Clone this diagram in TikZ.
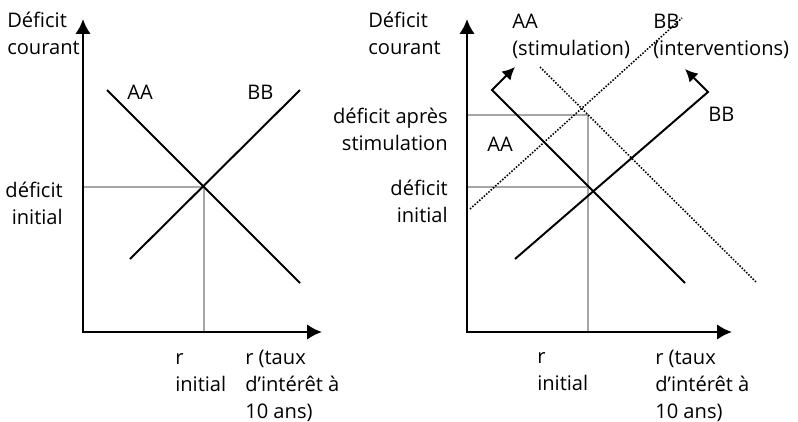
\documentclass[tikz,border=0pt]{standalone}
\usepackage{fontspec}
\setmainfont{Open Sans}
\usetikzlibrary{arrows.meta}
\definecolor{GuideGray}{HTML}{A6A6A6}
\tikzset{
  axis/.style={{Latex[length=10.5pt,width=11pt]}-{Latex[length=10.5pt,width=11pt]}, line width=2pt},
  curve/.style={line width=1.4pt},
  movedcurve/.style={line width=1.1pt, dash pattern=on 1.1pt off 1.1pt},
  shiftarrow/.style={line width=1.4pt},
  guide/.style={draw=GuideGray, line width=1.3pt},
  lbl/.style={inner sep=0pt, font=\fontsize{14.3}{19.2}\selectfont}
}

\begin{document}
\begin{tikzpicture}[x=0.025cm, y=-0.025cm]
\useasboundingbox (0,0) rectangle (798,422);
% left panel
\coordinate (O1) at (83,332);
\coordinate (y1) at (83,19);
\coordinate (x1) at (322,332);
\coordinate (E1) at (204,187);
\draw[guide] (O1 |- E1) -- (E1) -- (E1 |- O1);
\draw[curve] (107,90) -- (300,283);
\draw[curve] (130,259) -- (300,90);
\draw[axis] (y1) -- (O1) -- (x1);
\node[lbl, anchor=north west, align=left] (ylab1) at (7,12) {Déficit\\courant};
\node[lbl, anchor=north west] (aa1) at (127,85) {AA};
\node[lbl, anchor=north west] (bb1) at (247,85) {BB};
\node[lbl, anchor=north east, align=right] (d1) at (63,182) {déficit\\initial};
\node[lbl, anchor=north west, align=left] (r1) at (175,353) {r\\initial};
\node[lbl, anchor=north west, align=left] (xlab1) at (245,350) {r (taux\\d’intérêt à\\10 ans)};
% right panel
\coordinate (O2) at (467,332);
\coordinate (y2) at (467,19);
\coordinate (x2) at (732,332);
\coordinate (E2) at (588,187);
\coordinate (S2) at (588,115);
\draw[guide] (O2 |- S2) -- (S2) -- (S2 |- O2);
\draw[guide] (O2 |- E2) -- (E2);
\draw[movedcurve] (540,67) -- (757,283);
\draw[movedcurve] (470,209) -- (682,18);
\draw[shiftarrow, {Latex[length=9pt,width=9pt]}-] (515,67) -- (492,90) -- (685,283);
\draw[shiftarrow, -{Latex[length=9pt,width=9pt]}] (515,259) -- (708,92) -- (685,69);
\draw[axis] (y2) -- (O2) -- (x2);
\node[lbl, anchor=north west, align=left] (ylab2) at (368,12) {Déficit\\courant};
\node[lbl, anchor=north west, align=left] (aa2s) at (512,14) {AA\\(stimulation)};
\node[lbl, anchor=north west, align=left] (bb2i) at (653,14) {BB\\(interventions)};
\node[lbl, anchor=north east, align=right] (d2s) at (448,108) {déficit après\\stimulation};
\node[lbl, anchor=north east, align=right] (d2) at (448,180) {déficit\\initial};
\node[lbl, anchor=north west] (aa2) at (487,137) {AA};
\node[lbl, anchor=north west] (bb2) at (708,107) {BB};
\node[lbl, anchor=north west, align=left] (r2) at (537,352) {r\\initial};
\node[lbl, anchor=north west, align=left] (xlab2) at (655,350) {r (taux\\d’intérêt à\\10 ans)};
\end{tikzpicture}
\end{document}
